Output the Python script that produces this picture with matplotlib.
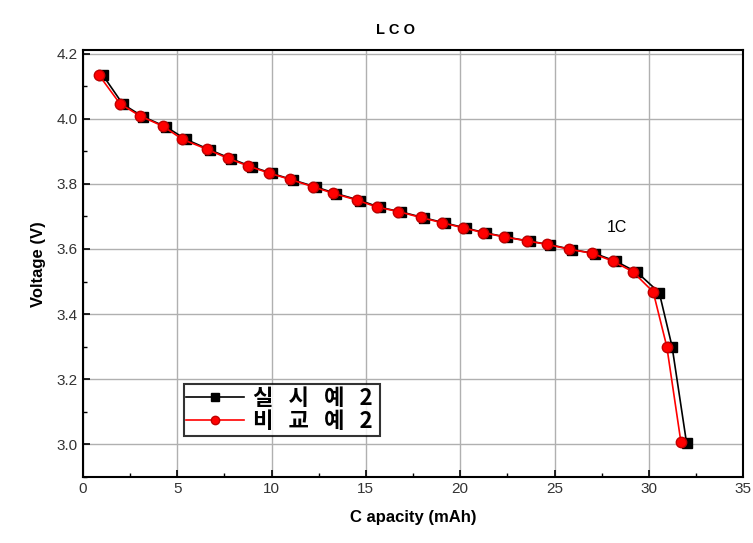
import matplotlib
matplotlib.use("Agg")
import matplotlib.pyplot as plt
from matplotlib.ticker import MultipleLocator

# Data
cap_red = [0.85, 1.96, 3.02, 4.26, 5.28, 6.56, 7.67, 8.77, 9.88, 10.98, 12.21, 13.27,
           14.54, 15.57, 16.72, 17.90, 19.01, 20.16, 21.22, 22.34, 23.52, 24.62, 25.79,
           26.97, 28.08, 29.15, 30.23, 30.95, 31.70]
volt_red = [4.135, 4.047, 4.009, 3.977, 3.937, 3.907, 3.879, 3.855, 3.833, 3.814, 3.791,
            3.771, 3.750, 3.729, 3.715, 3.697, 3.681, 3.665, 3.650, 3.637, 3.625, 3.614,
            3.599, 3.587, 3.563, 3.530, 3.468, 3.300, 3.006]
cap_black = [1.05, 2.12, 3.18, 4.42, 5.46, 6.72, 7.84, 8.94, 10.04, 11.14, 12.38, 13.44,
             14.70, 15.74, 16.88, 18.06, 19.18, 20.32, 21.38, 22.50, 23.68, 24.78, 25.95,
             27.14, 28.26, 29.38, 30.55, 31.23, 32.00]
volt_black = [4.135, 4.045, 4.007, 3.975, 3.937, 3.905, 3.878, 3.853, 3.832, 3.812, 3.790,
              3.770, 3.749, 3.728, 3.714, 3.696, 3.680, 3.664, 3.649, 3.636, 3.624, 3.613,
              3.598, 3.586, 3.562, 3.528, 3.466, 3.300, 3.003]
labels = ["실   시   예   2 ", "비   교   예   2 "]

plt.rcParams['font.family'] = ['Liberation Sans', 'Noto Sans CJK KR', 'DejaVu Sans']

fig = plt.figure(figsize=(7.53, 5.43), dpi=100)
ax = fig.add_axes([0.110, 0.122, 0.877, 0.785])

ax.plot(cap_black, volt_black, '-s', color='black', markerfacecolor='black',
        markeredgecolor='black', markersize=7, lw=1.2, label=labels[0], zorder=3)
ax.plot(cap_red, volt_red, '-o', color='red', markerfacecolor='red',
        markeredgecolor='#c00000', markersize=7.5, lw=1.2, label=labels[1], zorder=4)

ax.set_xlim(0, 35)
ax.set_ylim(2.9, 4.21)
ax.xaxis.set_major_locator(MultipleLocator(5))
ax.xaxis.set_minor_locator(MultipleLocator(2.5))
ax.yaxis.set_major_locator(MultipleLocator(0.2))
ax.yaxis.set_minor_locator(MultipleLocator(0.1))
ax.yaxis.set_major_formatter(matplotlib.ticker.FormatStrFormatter('%.1f'))
ax.grid(True, which='major', color='#b0b0b0', lw=1.0)
ax.set_axisbelow(True)
ax.tick_params(which='both', direction='in', labelsize=11, labelcolor='#333333')
ax.tick_params(which='major', length=5, width=1.2)
ax.tick_params(which='minor', length=3, width=1)
for s in ax.spines.values():
    s.set_linewidth(1.5)

ax.set_xlabel("C apacity (mAh)", fontsize=12, fontweight='bold', labelpad=10)
ax.set_ylabel("Voltage (V)", fontsize=12, fontweight='bold', labelpad=8)
fig.text(395/753, 1 - 30/543, "L C O", ha='center', va='center', fontsize=10.5,
         fontweight='bold')
ax.text(28.3, 3.667, "1C", fontsize=11.5, ha='center', va='center')

leg = ax.legend(loc='lower left', bbox_to_anchor=(0.136, 0.07),
                frameon=True, fancybox=False, edgecolor='black', handlelength=2.6,
                borderpad=0.12, labelspacing=0.02, handletextpad=0.4, markerscale=0.8,
                prop={'family': ['Noto Sans CJK KR'], 'size': 16, 'weight': 'bold'})
leg.get_frame().set_linewidth(1.5)

fig.savefig("out.png", dpi=100)
